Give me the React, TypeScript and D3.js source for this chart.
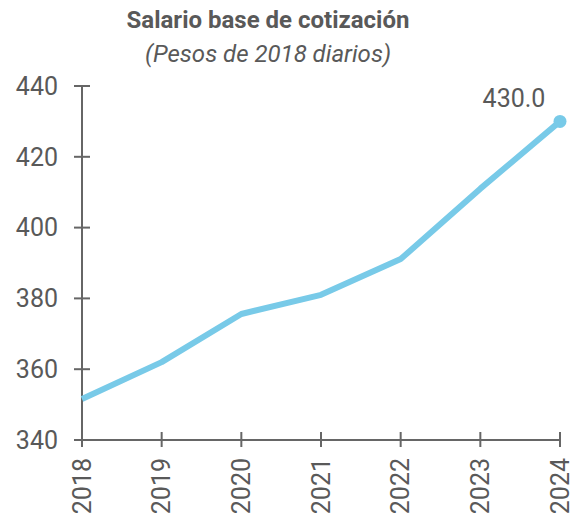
import React from "react";
import * as d3 from "d3";

const years = ["2018", "2019", "2020", "2021", "2022", "2023", "2024"];
const values = [351.6, 362.0, 375.6, 381.0, 391.1, 411.0, 430.0];
const yTicks = [340, 360, 380, 400, 420, 440];
const title = "Salario base de cotización";
const subtitle = "(Pesos de 2018 diarios)";

export default function App() {
  const W = 571, H = 520;
  const x = d3.scalePoint<string>().domain(years).range([82, 560]);
  const y = d3.scaleLinear().domain([340, 440]).range([440, 86]);
  const line = d3.line<number>().x((_, i) => x(years[i])!).y((d) => y(d));
  const textColor = "#595959";
  const axisColor = "#666666";
  const font = "Roboto, 'Noto Sans', sans-serif";
  const last = values.length - 1;
  return (
    <svg width={W} height={H} style={{ position: "absolute", left: 0, top: 0 }} fontFamily={font}>
      <text x={268} y={28} textAnchor="middle" fontSize={24} fontWeight="bold" fill={textColor}>{title}</text>
      <text x={268} y={62} textAnchor="middle" fontSize={24} fontStyle="italic" fill={textColor}>{subtitle}</text>
      {/* y axis */}
      <line x1={82} x2={82} y1={y(440)} y2={y(340)} stroke={axisColor} strokeWidth={2} />
      {yTicks.map((t) => (
        <g key={t}>
          <line x1={74} x2={90} y1={y(t)} y2={y(t)} stroke={axisColor} strokeWidth={2} />
          <text x={58} y={y(t)} dy="0.35em" textAnchor="end" fontSize={25} fill={textColor}>{t}</text>
        </g>
      ))}
      {/* x axis */}
      <line x1={x(years[0])!} x2={x(years[last])!} y1={440} y2={440} stroke={axisColor} strokeWidth={2} />
      {years.map((yr) => (
        <g key={yr}>
          <line x1={x(yr)!} x2={x(yr)!} y1={432} y2={447} stroke={axisColor} strokeWidth={2} />
          <text
            transform={`translate(${x(yr)!},458) rotate(-90)`}
            textAnchor="end"
            dy="0.35em"
            fontSize={25}
            fill={textColor}
          >{yr}</text>
        </g>
      ))}
      <path d={line(values)!} fill="none" stroke="#78CAE8" strokeWidth={6} strokeLinejoin="round" />
      <circle cx={x(years[last])!} cy={y(values[last])} r={6.5} fill="#78CAE8" />
      <text x={514} y={107} textAnchor="middle" fontSize={25} fill={textColor}>{values[last].toFixed(1)}</text>
    </svg>
  );
}
